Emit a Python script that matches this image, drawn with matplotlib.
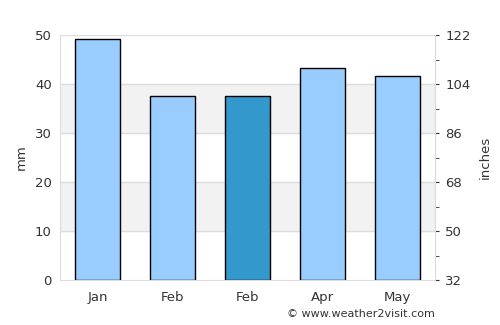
import matplotlib
matplotlib.use("Agg")
import matplotlib.pyplot as plt
from matplotlib.ticker import MultipleLocator

months = ["Jan", "Feb", "Feb", "Apr", "May"]
rain_mm = [49.3, 37.5, 37.5, 43.2, 41.6]
colors = ["#99ccff", "#99ccff", "#3399cc", "#99ccff", "#99ccff"]
left_ticks = [0, 10, 20, 30, 40, 50]
right_labels = ["32", "50", "68", "86", "104", "122"]

fig = plt.figure(figsize=(5.0, 3.25), dpi=100)
ax = fig.add_axes([0.12, 0.138, 0.75, 0.754])
ax.set_xlim(-0.5, len(months) - 0.5)
ax.set_ylim(0, 50)

for lo in (10, 30):
    ax.axhspan(lo, lo + 10, color="#f2f2f2", zorder=0)
for y in left_ticks[1:]:
    ax.axhline(y, color="#dddddd", lw=1, zorder=1)

ax.bar(range(len(months)), rain_mm, width=0.6, color=colors,
       edgecolor="black", linewidth=1, zorder=3)

ax.set_xticks(range(len(months)))
ax.set_xticklabels(months)
ax.set_yticks(left_ticks)
ax.tick_params(axis="both", length=0, colors="#333333", labelsize=9.5, pad=8)
ax.tick_params(axis="y", pad=6)
for s in ["left", "bottom", "right"]:
    ax.spines[s].set_color("#dddddd")
ax.spines["top"].set_visible(False)
ax.set_ylabel("mm", color="#333333", fontsize=9.5, labelpad=5)

ax2 = ax.twinx()
ax2.set_ylim(0, 50)
ax2.set_yticks(left_ticks)
ax2.set_yticklabels(right_labels)
ax2.yaxis.set_minor_locator(MultipleLocator(5))
ax2.tick_params(axis="y", which="major", length=3, colors="#333333", labelsize=9.5, pad=4.5)
ax2.tick_params(axis="y", which="minor", length=3, color="#333333")
for s in ["left", "bottom", "top"]:
    ax2.spines[s].set_visible(False)
ax2.spines["right"].set_color("#dddddd")
ax2.set_ylabel("inches", color="#333333", fontsize=9.5, labelpad=6)

fig.text(0.87, 0.035, "© www.weather2visit.com", ha="right", va="center",
         fontsize=8, color="#333333")

fig.savefig("out.png", dpi=100)
